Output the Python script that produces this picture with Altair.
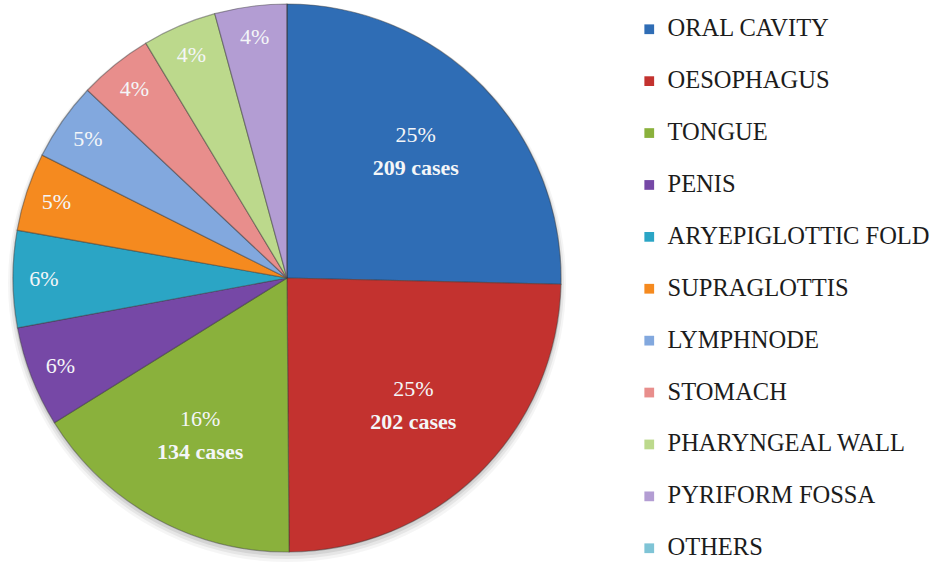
import altair as alt
import pandas as pd

# Primary tumour sites and case counts
sites = [
    "ORAL CAVITY", "OESOPHAGUS", "TONGUE", "PENIS", "ARYEPIGLOTTIC FOLD",
    "SUPRAGLOTTIS", "LYMPHNODE", "STOMACH", "PHARYNGEAL WALL",
    "PYRIFORM FOSSA", "OTHERS",
]
cases = [209, 202, 134, 49, 47, 38, 38, 36, 36, 35, 0]
colors = [
    "#2F6DB5", "#C3322F", "#8AB13C", "#7648A6", "#2BA5C5", "#F58A1F",
    "#82A8DE", "#E88E8C", "#BCD98C", "#B39DD3", "#7FC4D6",
]

df = pd.DataFrame({"site": sites, "cases": cases, "idx": list(range(len(sites)))})

FONT = "Liberation Serif"
CX, CY, R = 287, 278, 274

base = alt.Chart(df).transform_joinaggregate(
    total="sum(cases)"
).transform_calculate(
    pct="datum.cases / datum.total",
    small_label="datum.cases > 0 && datum.cases < 100 ? format(datum.cases / datum.total, '.0%') : ''",
    big_pct="datum.cases >= 100 ? format(datum.cases / datum.total, '.0%') : ''",
    big_cases="datum.cases >= 100 ? datum.cases + ' cases' : ''",
)

theta = alt.Theta("cases:Q", stack=True)
order = alt.Order("idx:Q")
cx = alt.value(CX)
cy = alt.value(CY)

# soft drop shadow under the pie
shadow_src = alt.Chart(pd.DataFrame({"s": [0]}))
shadows = [
    shadow_src.mark_arc(theta=0, theta2=6.2832, outerRadius=R + r_extra,
                        color="#000000", opacity=op).encode(
        x=cx, y=alt.value(CY + dy_off)
    )
    for r_extra, dy_off, op in [(5, 5, 0.04), (3, 4, 0.06), (1, 3, 0.08)]
]

arcs = base.mark_arc(
    outerRadius=R, stroke="#3a3a3a", strokeOpacity=0.45, strokeWidth=1.2
).encode(
    theta=theta,
    order=order,
    x=cx,
    y=cy,
    color=alt.Color(
        "site:N",
        scale=alt.Scale(domain=sites, range=colors),
        legend=alt.Legend(
            title=None,
            orient="none",
            legendX=637,
            legendY=17,
            symbolType="square",
            symbolSize=95,
            symbolStrokeWidth=0,
            labelFont=FONT,
            labelFontSize=24.5,
            labelColor="#1c1c1c",
            labelOffset=6,
            labelLimit=400,
            rowPadding=26.9,
        ),
    ),
)

text_style = dict(font=FONT, fontSize=22, color="#F4F6F8")

small_pct = base.mark_text(radius=243, **text_style).encode(
    theta=theta, order=order, x=cx, y=cy, text="small_label:N"
)

big_pct = base.mark_text(radius=180, dy=-17, **text_style).encode(
    theta=theta, order=order, x=cx, y=cy, text="big_pct:N"
)

big_cases = base.mark_text(radius=180, dy=16, fontWeight="bold", **text_style).encode(
    theta=theta, order=order, x=cx, y=cy, text="big_cases:N"
)

chart = alt.layer(*shadows, arcs, small_pct, big_pct, big_cases).properties(
    width=941,
    height=562,
    padding=0,
    autosize=alt.AutoSizeParams(type="none"),
    background="white",
).configure_view(stroke=None)

chart.save("out.html", embed_options={"renderer": "svg", "actions": False})
